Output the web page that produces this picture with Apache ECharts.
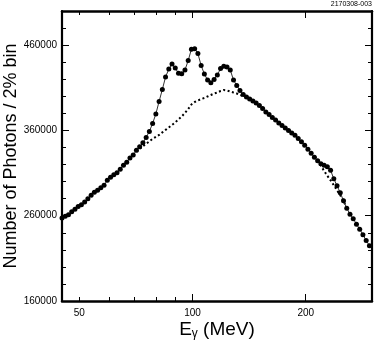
<!DOCTYPE html>
<html>
<head>
<meta charset="utf-8">
<script src="https://cdn.jsdelivr.net/npm/echarts@6/dist/echarts.min.js"></script>
<style>
html,body{margin:0;padding:0;background:#fff;}
#chart{width:374px;height:346px;}
</style>
</head>
<body>
<div id="chart"></div>
<script>
// Photon energy bins (MeV), 2% wide
const energies = [
  45.0, 45.9, 46.82, 47.75, 48.71, 49.68, 50.68, 51.69, 52.72, 53.78,
  54.85, 55.95, 57.07, 58.21, 59.38, 60.57, 61.78, 63.01, 64.27, 65.56,
  66.87, 68.21, 69.57, 70.96, 72.38, 73.83, 75.31, 76.81, 78.35, 79.92,
  81.52, 83.15, 84.81, 86.50, 88.23, 90.00, 91.80, 93.63, 95.50, 97.41,
  99.36, 101.35, 103.38, 105.45, 107.55, 109.70, 111.90, 114.14, 116.42, 118.75,
  121.12, 123.54, 126.02, 128.54, 131.11, 133.73, 136.40, 139.13, 141.91, 144.75,
  147.65, 150.60, 153.61, 156.68, 159.82, 163.01, 166.27, 169.60, 172.99, 176.45,
  179.98, 183.58, 187.25, 190.99, 194.81, 198.71, 202.69, 206.74, 210.88, 215.09,
  219.39, 223.78, 228.26, 232.82, 237.48, 242.23, 247.07, 252.01, 257.05, 262.20,
  267.44, 272.79, 278.24, 283.81, 289.49, 295.28
];
// Measured photon counts per bin
const photons = [
  257400, 259400, 261200, 264700, 267600, 270800, 272900, 276100, 279900, 284000,
  287500, 289800, 292700, 295700, 301500, 305000, 308000, 310300, 314400, 319100,
  322600, 327800, 331300, 336600, 340700, 345400, 351800, 358800, 368200, 379300,
  393900, 408000, 422600, 431900, 437800, 433100, 427000, 426300, 430800, 441900,
  455300, 455600, 450100, 436000, 426100, 419100, 415800, 419700, 424900, 432500,
  435200, 434300, 430800, 419100, 412600, 406800, 402100, 399200, 396800, 394500,
  392200, 389200, 385700, 381600, 378700, 375200, 372300, 368800, 365800, 362900,
  360000, 357100, 354200, 350600, 346600, 342500, 337800, 333100, 328400, 324300,
  320800, 319100, 317300, 313200, 303300, 295100, 286900, 277500, 268800, 261800,
  256500, 250100, 244200, 237800, 230800, 224900
];
// Smooth background (dotted) where it departs from the data
const background = [
  null, null, null, null, null, null, null, null, null, null,
  null, null, null, null, null, null, null, null, null, null,
  null, null, 331300, 334900, 338400, 341300, 344200, 347100, 350100, 352400,
  354700, 357700, 360600, 363500, 366400, 369400, 372900, 376400, 380500, 385100,
  390400, 393300, 395100, 396800, 398000, 399800, 401500, 403300, 404400, 406200,
  407400, 406800, 405600, 404400, 403300, 401500, 400400, 399200, null, null,
  null, null, null, null, null, null, null, null, null, null,
  null, null, null, null, null, null, null, null, null, 324300,
  318500, 312600, 306800, 301500, 295700, 289800, 284000, 277500, 268800, null,
  null, null, null, null, null, null
];
const xLabelValues = [50, 100, 200];
const xShortTicks = [50, 60, 70, 80, 90];
const xLongTicks = [100, 200];
const xMinE = 45, xMaxE = 300;
const yMin = 160000, yMax = 500000, yMajorStep = 100000, yMinorStep = 20000;

const lg = v => Math.log10(v);
const FONT = 'Liberation Sans, Arial, Helvetica, sans-serif';

function xAxisDef(pos, ticks, len, showLine, showLabel, extra) {
  return Object.assign({
    type: 'value', position: pos, min: lg(xMinE), max: lg(xMaxE),
    splitLine: {show: false},
    axisLine: {show: showLine, lineStyle: {color: '#000', width: 2.5}},
    axisTick: {show: true, inside: true, length: len, customValues: ticks.map(lg),
      lineStyle: {color: '#000', width: 1}},
    axisLabel: {show: showLabel, customValues: xLabelValues.map(lg), margin: 7,
      formatter: v => String(Math.round(Math.pow(10, v))),
      color: '#000', fontSize: 10, fontFamily: FONT}
  }, extra || {});
}
function yAxisDef(pos, step, len, showLine, showLabel, extra) {
  return Object.assign({
    type: 'value', position: pos, min: yMin, max: yMax, interval: step,
    splitLine: {show: false},
    axisLine: {show: showLine, lineStyle: {color: '#000', width: 2.2}},
    axisTick: {show: true, inside: true, length: len,
      lineStyle: {color: '#000', width: 1}},
    axisLabel: {show: showLabel, margin: 5, showMaxLabel: false,
      formatter: v => String(v),
      color: '#000', fontSize: 10, fontFamily: FONT}
  }, extra || {});
}

const chart = echarts.init(document.getElementById('chart'), null, {renderer: 'canvas'});
chart.setOption({
  animation: false,
  backgroundColor: '#fff',
  grid: {left: 62, right: 2, top: 11, bottom: 45, outerBoundsMode: 'none'},
  graphic: [{
    type: 'text', right: 2, top: 1,
    style: {text: '2170308-003', fontSize: 7, fontFamily: FONT, fill: '#000'}
  }],
  xAxis: [
    xAxisDef('bottom', xShortTicks, 4, true, true, {
      name: '{e|E}{g|γ}{e| (MeV)}', nameLocation: 'middle', nameGap: 18,
      nameMoveOverlap: false,
      nameTextStyle: {
        color: '#000', fontFamily: FONT,
        rich: {
          e: {fontSize: 19, fontFamily: FONT, color: '#000'},
          g: {fontSize: 12, fontFamily: FONT, color: '#000', padding: [9, 0, 0, 0]}
        }
      }
    }),
    xAxisDef('bottom', xLongTicks, 7, false, false),
    xAxisDef('top', xShortTicks, 4, true, false),
    xAxisDef('top', xLongTicks, 7, false, false)
  ],
  yAxis: [
    yAxisDef('left', yMajorStep, 7, true, true, {
      name: 'Number of Photons / 2% bin', nameLocation: 'middle', nameGap: 42,
      nameMoveOverlap: false,
      nameTextStyle: {color: '#000', fontSize: 18, fontFamily: FONT}
    }),
    yAxisDef('left', yMinorStep, 4, false, false),
    yAxisDef('right', yMajorStep, 7, true, false),
    yAxisDef('right', yMinorStep, 4, false, false)
  ],
  series: [
    {
      type: 'line', xAxisIndex: 0, yAxisIndex: 0,
      data: background.map((v, i) => [lg(energies[i]), v]),
      showSymbol: false, symbol: 'none', connectNulls: false,
      lineStyle: {color: '#000', width: 2, type: [2, 2.5]},
      z: 2
    },
    {
      type: 'line', xAxisIndex: 0, yAxisIndex: 0,
      data: photons.map((v, i) => [lg(energies[i]), v]),
      symbol: 'circle', symbolSize: 5, showAllSymbol: true,
      itemStyle: {color: '#000'},
      lineStyle: {color: '#333', width: 1},
      z: 3
    }
  ]
});
</script>
</body>
</html>
